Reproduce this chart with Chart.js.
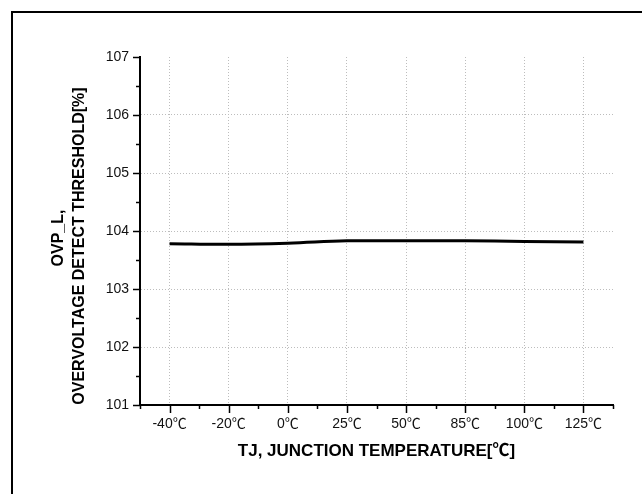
<!DOCTYPE html>
<html>
<head>
<meta charset="utf-8">
<title>OVP_L vs TJ</title>
<script src="https://cdn.jsdelivr.net/npm/chart.js@4.4.1/dist/chart.umd.min.js"></script>
<style>
  html, body { margin: 0; padding: 0; background: #fff; overflow: hidden; }
  #wrap { position: relative; width: 642px; height: 494px; }
  /* outer frame, only top and left edges fall inside the picture */
  #frame {
    position: absolute; left: 11px; top: 11px;
    width: 700px; height: 600px;
    border: 2px solid #000;
  }
  #chart { position: absolute; left: 0; top: 0; }
</style>
</head>
<body>
<div id="wrap">
  <div id="frame"></div>
  <canvas id="chart" width="642" height="494"></canvas>
</div>
<script>
// data
const temps = ["-40℃", "-20℃", "0℃", "25℃", "50℃", "85℃", "100℃", "125℃"];
const ovpL = [103.78, 103.77, 103.79, 103.83, 103.83, 103.83, 103.82, 103.81];
const yMin = 101;
const yMax = 107;
const yTitle = ["OVP_L,", "OVERVOLTAGE DETECT THRESHOLD[%]"];

const FONT = "Arial, 'Liberation Sans', 'Noto Sans CJK SC', sans-serif";

// draws the small black tick marks (major + minor) outside the axes
const axisTicks = {
  id: "axisTicks",
  afterDraw(chart) {
    const { ctx, scales: { x, y } } = chart;
    ctx.save();
    ctx.strokeStyle = "#000";
    ctx.lineWidth = 1.5;
    // y axis: major on whole numbers, minor on halves
    for (let v = yMin; v <= yMax + 0.001; v += 0.5) {
      const py = Math.round(y.getPixelForValue(v)) + 0.5;
      const len = Number.isInteger(v) ? 7 : 4;
      ctx.beginPath();
      ctx.moveTo(y.right - len, py);
      ctx.lineTo(y.right, py);
      ctx.stroke();
    }
    // x axis: major at categories, minor between them
    for (let i = 0; i <= temps.length * 2; i++) {
      const v = i / 2 - 0.5;
      const px = Math.round(x.getPixelForValue(v)) + 0.5;
      const len = i % 2 === 1 ? 8 : 4;
      ctx.beginPath();
      ctx.moveTo(px, x.top);
      ctx.lineTo(px, x.top + len);
      ctx.stroke();
    }
    ctx.restore();
  }
};

// y title drawn by hand, the two lines are not centred on the same spot
const yAxisTitle = {
  id: "yAxisTitle",
  afterDraw(chart) {
    const { ctx, chartArea } = chart;
    const mid = (chartArea.top + chartArea.bottom) / 2;
    const lines = [
      { text: yTitle[0], x: 59, dy: 7 },
      { text: yTitle[1], x: 80, dy: 15 }
    ];
    ctx.save();
    ctx.fillStyle = "#000";
    ctx.font = "bold 16px " + FONT;
    ctx.textAlign = "center";
    ctx.textBaseline = "middle";
    lines.forEach((l) => {
      ctx.save();
      ctx.translate(l.x, mid + l.dy);
      ctx.rotate(-Math.PI / 2);
      ctx.fillText(l.text, 0, 0);
      ctx.restore();
    });
    ctx.restore();
  }
};

const ctx = document.getElementById("chart").getContext("2d");
new Chart(ctx, {
  type: "line",
  data: {
    labels: temps,
    datasets: [{
      label: "OVP_L",
      data: ovpL,
      borderColor: "#000",
      borderWidth: 3,
      pointRadius: 0,
      tension: 0.4,
      fill: false
    }]
  },
  options: {
    responsive: false,
    animation: false,
    devicePixelRatio: 1,
    layout: { padding: { top: 57, right: 29, bottom: 0, left: 0 } },
    plugins: {
      legend: { display: false },
      tooltip: { enabled: false }
    },
    scales: {
      x: {
        type: "category",
        offset: true,
        afterFit: (scale) => { scale.height = 89; },
        grid: {
          offset: false,
          color: "#bdbdbd",
          lineWidth: 1,
          drawTicks: false
        },
        border: { display: true, color: "#000", width: 2, dash: [1, 2] },
        ticks: {
          padding: 11,
          color: "#111",
          font: { family: FONT, size: 14 },
          maxRotation: 0,
          autoSkip: false
        },
        title: {
          display: true,
          text: "TJ, JUNCTION TEMPERATURE[℃]",
          color: "#000",
          font: { family: FONT, size: 17, weight: "bold" },
          padding: { top: 0, bottom: 32 }
        }
      },
      y: {
        min: yMin,
        max: yMax,
        afterFit: (scale) => { scale.width = 140; },
        grid: {
          color: (c) => (c.tick && (c.tick.value === yMax || c.tick.value === yMin)) ? "rgba(0,0,0,0)" : "#bdbdbd",
          lineWidth: 1,
          drawTicks: false
        },
        border: { display: true, color: "#000", width: 2, dash: [1, 2] },
        ticks: {
          stepSize: 1,
          padding: 11,
          color: "#111",
          font: { family: FONT, size: 14 }
        },
        title: { display: false }
      }
    }
  },
  plugins: [axisTicks, yAxisTitle]
});
</script>
</body>
</html>
